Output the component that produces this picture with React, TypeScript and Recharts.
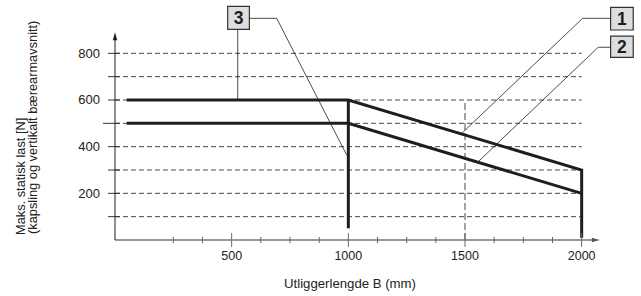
import React from "react";
import {
  ComposedChart,
  Line,
  XAxis,
  YAxis,
  ReferenceLine,
  ReferenceArea,
  ReferenceDot,
  Label,
} from "recharts";

// thick load curves (x = utliggerlengde mm, y = last N)
const curve1X = [50, 1000, 2000, 2000];
const curve1Y = [600, 600, 300, 10];
const curve2X = [50, 1000, 2000];
const curve2Y = [500, 500, 200];
const wallX = [1000, 1000];
const wallY = [600, 50];

// leader lines for callouts
const lead3aX = [526, 526];
const lead3aY = [903, 600];
const lead3bX = [576, 693, 993];
const lead3bY = [950, 950, 364];
const lead1X = [2124, 2004, 1486];
const lead1Y = [950, 950, 457];
const lead2X = [2124, 2071, 1557];
const lead2Y = [826, 826, 336];

// callout boxes
const boxLabels = ["3", "1", "2"];
const boxX1 = [483, 2124, 2124];
const boxX2 = [576, 2221, 2221];
const boxY1 = [903, 900, 783];
const boxY2 = [1001, 997, 874];

const gridValues = [100, 200, 300, 400, 500, 600, 700, 800];
const yLabels = [200, 400, 600, 800];
const xTicks = [250, 375, 500, 625, 750, 875, 1000, 1125, 1250, 1375, 1500, 1625, 1750, 1875, 2000];
const xLabels = [500, 1000, 1500, 2000];

const toPoints = (xs: number[], ys: number[]) => xs.map((x, i) => ({ x, y: ys[i] }));

const INK = "#1e1e1e";
const FONT = "'Liberation Sans', Arial, sans-serif";

const XTick = (props: any) => {
  const { x, y, payload } = props;
  const major = xLabels.includes(payload.value);
  const h = major ? 7 : 3;
  return (
    <g>
      <line x1={x} x2={x} y1={y - h} y2={y + h} stroke="#666" strokeWidth={1} />
      {major && (
        <text x={x} y={y + 20} textAnchor="middle" fontSize={12.5} fill="#222" fontFamily={FONT}>
          {payload.value}
        </text>
      )}
    </g>
  );
};

const YTick = (props: any) => {
  const { x, y, payload } = props;
  const left = payload.value === 500 ? 12 : 7;
  return (
    <g>
      <line x1={x - left} x2={x + 5} y1={y} y2={y} stroke="#333" strokeWidth={1} />
      {yLabels.includes(payload.value) && (
        <text x={x - 15} y={y + 4.5} textAnchor="end" fontSize={13} fill="#222" fontFamily={FONT}>
          {payload.value}
        </text>
      )}
    </g>
  );
};

const YTitle = () => (
  <g fontFamily={FONT} fontSize={12.8} fill="#222">
    <text x={25} y={235} transform="rotate(-90 25 235)">Maks. statisk last [N]</text>
    <text x={36.5} y={234} transform="rotate(-90 36.5 234)">(kapsling og vertikalt bærearmavsnitt)</text>
  </g>
);

const XTitle = () => (
  <text x={350} y={288} textAnchor="middle" fontFamily={FONT} fontSize={13.2} fill="#222">
    Utliggerlengde B (mm)
  </text>
);

const ArrowUp = (props: any) => {
  const { cx, cy } = props;
  return <path d={`M${cx},${cy} L${cx - 2.2},${cy + 8} L${cx + 2.2},${cy + 8} Z`} fill={INK} />;
};

const ArrowRight = (props: any) => {
  const { cx, cy } = props;
  return <path d={`M${cx},${cy} L${cx - 8},${cy - 2.2} L${cx - 8},${cy + 2.2} Z`} fill="#555" />;
};

export default function App() {
  const thin = { stroke: INK, strokeWidth: 0.8, dot: false, isAnimationActive: false, type: "linear" as const };
  const thick = { stroke: INK, strokeWidth: 3, dot: false, isAnimationActive: false, type: "linear" as const };
  return (
    <div style={{ position: "absolute", left: 0, top: 0, background: "#fff" }}>
      <ComposedChart width={641} height={296} margin={{ top: 0, right: 1, bottom: 16, left: 55 }}>
        <XAxis
          dataKey="x"
          type="number"
          domain={[0, 2250]}
          ticks={xTicks}
          interval={0}
          tick={<XTick />}
          tickLine={false}
          axisLine={false}
          tickSize={0}
          tickMargin={0}
          height={40}
        >
          <Label content={<XTitle />} />
        </XAxis>
        <YAxis
          dataKey="y"
          type="number"
          domain={[0, 1028.57]}
          ticks={gridValues}
          interval={0}
          tick={<YTick />}
          tickLine={false}
          axisLine={false}
          tickSize={0}
          tickMargin={0}
          width={60}
        >
          <Label content={<YTitle />} />
        </YAxis>

        {gridValues.map((v) => (
          <ReferenceLine
            key={v}
            segment={[{ x: 0, y: v }, { x: 2000, y: v }]}
            stroke="#333"
            strokeWidth={0.9}
            strokeDasharray="5 3"
          />
        ))}
        <ReferenceLine
          segment={[{ x: 1500, y: 0 }, { x: 1500, y: 600 }]}
          stroke="#333"
          strokeWidth={0.9}
          strokeDasharray="7 3"
        />

        <ReferenceLine segment={[{ x: 0, y: 0 }, { x: 2050, y: 0 }]} stroke="#777" strokeWidth={1.4} />
        <ReferenceLine segment={[{ x: 0, y: 0 }, { x: 0, y: 870 }]} stroke={INK} strokeWidth={1} />
        <ReferenceDot x={0} y={890} shape={<ArrowUp />} />
        <ReferenceDot x={2078} y={0} shape={<ArrowRight />} />

        <Line data={toPoints(lead3aX, lead3aY)} dataKey="y" {...thin} />
        <Line data={toPoints(lead3bX, lead3bY)} dataKey="y" {...thin} />
        <Line data={toPoints(lead1X, lead1Y)} dataKey="y" {...thin} />
        <Line data={toPoints(lead2X, lead2Y)} dataKey="y" {...thin} />

        <Line data={toPoints(curve1X, curve1Y)} dataKey="y" {...thick} />
        <Line data={toPoints(curve2X, curve2Y)} dataKey="y" {...thick} />
        <Line data={toPoints(wallX, wallY)} dataKey="y" {...thick} />

        {boxLabels.map((b, i) => (
          <ReferenceArea
            key={b}
            x1={boxX1[i]}
            x2={boxX2[i]}
            y1={boxY1[i]}
            y2={boxY2[i]}
            fill="#dedede"
            fillOpacity={1}
            stroke="#333"
            strokeWidth={1.2}
            ifOverflow="visible"
            label={{ value: b, position: "center", fontSize: 17.5, fontWeight: "bold", fill: INK, fontFamily: FONT }}
          />
        ))}
      </ComposedChart>
    </div>
  );
}
